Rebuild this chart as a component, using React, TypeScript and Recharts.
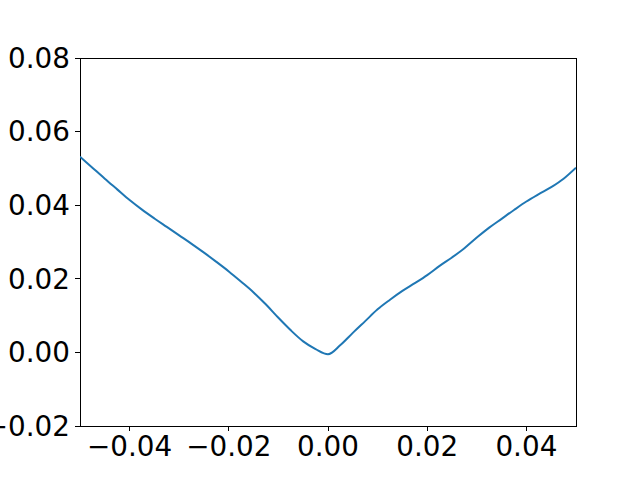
import React from "react";
import { LineChart, Line, XAxis, YAxis, ReferenceArea } from "recharts";

const xValues = [
  -0.05, -0.0475, -0.045, -0.0425, -0.04, -0.0375, -0.035, -0.0325, -0.03, -0.0275,
  -0.025, -0.0225, -0.02, -0.0175, -0.015, -0.0125, -0.01, -0.0075, -0.005, -0.0025,
  0, 0.0025, 0.005, 0.0075, 0.01, 0.0125, 0.015, 0.0175, 0.02, 0.0225,
  0.025, 0.0275, 0.03, 0.0325, 0.035, 0.0375, 0.04, 0.0425, 0.045, 0.0475, 0.05,
];
const yValues = [
  0.0532, 0.0502, 0.0472, 0.0443, 0.0414, 0.0388, 0.0364, 0.0341, 0.0318, 0.0295,
  0.0271, 0.0246, 0.022, 0.0192, 0.0163, 0.013, 0.0094, 0.006, 0.003, 0.0009,
  -0.0005, 0.002, 0.0053, 0.0085, 0.0117, 0.0143, 0.0167, 0.0188, 0.021, 0.0235,
  0.0258, 0.0283, 0.0312, 0.0339, 0.0363, 0.0387, 0.041, 0.043, 0.0449, 0.0472, 0.0502,
];
const xTicks = [-0.04, -0.02, 0, 0.02, 0.04];
const yTicks = [-0.02, 0, 0.02, 0.04, 0.06, 0.08];

const data = xValues.map((x, i) => ({ x, y: yValues[i] }));

const fmt = (v: number) => (v < 0 ? "\u2212" + Math.abs(v).toFixed(2) : v.toFixed(2));

const tickStyle = { fill: "#000", fontSize: 27.8, fontFamily: "DejaVu Sans" };
const tickLineStyle = { stroke: "#000", strokeWidth: 1, shapeRendering: "crispEdges" } as any;

export default function App() {
  return (
    <div style={{ position: "absolute", left: 0, top: 0, background: "#fff" }}>
      <LineChart
        width={640}
        height={480}
        data={data}
        margin={{ top: 58, right: 64, bottom: 0, left: 0 }}
      >
        <XAxis
          dataKey="x"
          type="number"
          domain={[-0.05, 0.05]}
          ticks={xTicks}
          tickFormatter={fmt}
          allowDataOverflow
          height={54}
          tickSize={5}
          tickMargin={5}
          tick={tickStyle}
          axisLine={false}
          tickLine={tickLineStyle}
          interval={0}
        />
        <YAxis
          type="number"
          domain={[-0.02, 0.08]}
          ticks={yTicks}
          tickFormatter={fmt}
          allowDataOverflow
          width={80}
          tickSize={5}
          tickMargin={5}
          tick={tickStyle}
          axisLine={false}
          tickLine={tickLineStyle}
          interval={0}
        />
        <Line
          dataKey="y"
          type="monotone"
          stroke="#1f77b4"
          strokeWidth={2}
          dot={false}
          isAnimationActive={false}
        />
        <ReferenceArea
          x1={-0.05}
          x2={0.05}
          y1={-0.02}
          y2={0.08}
          fill="none"
          fillOpacity={0}
          stroke="#000"
          strokeWidth={1}
          strokeOpacity={1}
          shapeRendering="crispEdges"
          ifOverflow="visible"
        />
      </LineChart>
    </div>
  );
}
